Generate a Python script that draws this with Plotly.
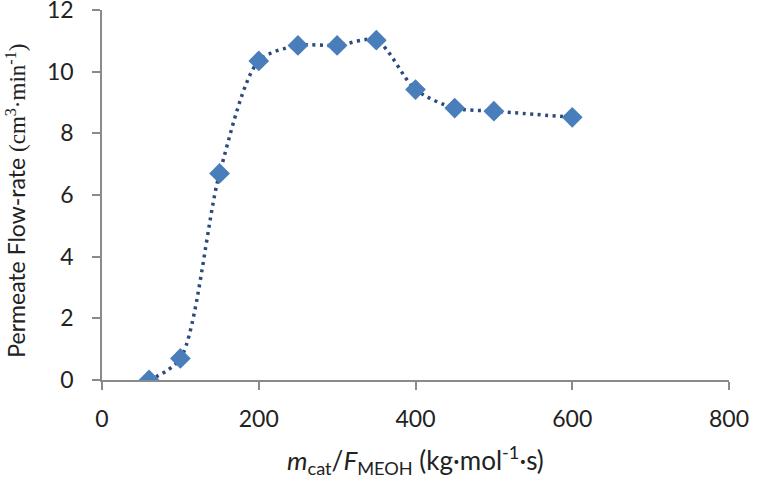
import plotly.graph_objects as go

x_vals = [60, 100, 150, 200, 250, 300, 350, 400, 450, 500, 600]
y_vals = [0.0, 0.7, 6.7, 10.35, 10.85, 10.85, 11.02, 9.42, 8.82, 8.72, 8.52]

x_ticks = [0, 200, 400, 600, 800]
y_ticks = [0, 2, 4, 6, 8, 10, 12]

x_title = "<i>m</i><sub>cat</sub>/<i>F</i><sub>MEOH</sub> (kg·mol<sup>-1</sup>·s)"
y_title = ("Permeate Flow-rate <span style=\"font-family:'Liberation Serif'\">"
           "(cm<sup>3</sup>·min<sup>-1</sup>)</span>")

fig = go.Figure()
fig.add_trace(go.Scatter(
    x=x_vals, y=y_vals, mode="lines",
    line=dict(color="#2b4a7d", width=3.5, dash="3px,4.5px", shape="spline", smoothing=0.8),
    hoverinfo="skip", showlegend=False,
))
fig.add_trace(go.Scatter(
    x=x_vals, y=y_vals, mode="markers",
    marker=dict(symbol="diamond", size=16, color="#4a7ebb", line=dict(width=0)),
    showlegend=False,
))

font_main = "Lato, 'Open Sans', sans-serif"
axis_common = dict(
    showgrid=False, zeroline=False, automargin=False,
    showline=True, linecolor="#8a8a8a", linewidth=1.5,
    ticks="outside", ticklen=8, tickcolor="#8a8a8a", tickwidth=1.5,
    tickfont=dict(size=23, color="#222222"), ticklabeloverflow="allow",
)
fig.update_layout(
    width=764, height=477,
    margin=dict(l=102, r=35, t=10, b=97),
    paper_bgcolor="white", plot_bgcolor="white",
    font=dict(family=font_main, size=23, color="#222222"),
    xaxis=dict(range=[0, 800], tickvals=x_ticks, ticklabelstandoff=10, **axis_common),
    yaxis=dict(range=[0, 12], tickvals=y_ticks, ticklabelstandoff=14, **axis_common),
    annotations=[
        dict(text=x_title, xref="paper", yref="paper", x=0.5, y=-0.215,
             xanchor="center", yanchor="middle", showarrow=False,
             font=dict(size=26, color="#222222")),
        dict(text=y_title, xref="paper", yref="paper", x=-0.137, y=0.485,
             xanchor="center", yanchor="middle", textangle=-90, showarrow=False,
             font=dict(size=23, color="#222222")),
    ],
)

fig.write_html("out.html")
